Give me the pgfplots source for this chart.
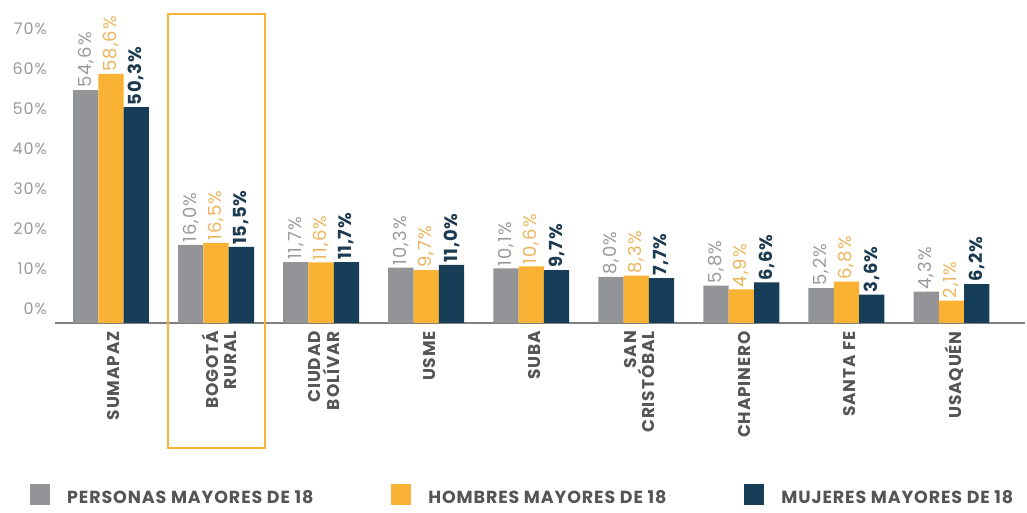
\documentclass[border=0pt]{standalone}
\usepackage{fontspec}
\setmainfont{Poppins}
\usepackage{pgfplots}
\usepackage{pgfplotstable}
\pgfplotsset{compat=1.18}
\definecolor{cgray}{HTML}{939497}
\definecolor{corange}{HTML}{F9B233}
\definecolor{cnavy}{HTML}{163E59}
\definecolor{tgray}{HTML}{9A9A9C}
\definecolor{torange}{HTML}{EBB55C}
\definecolor{tnavy}{HTML}{1D3B50}
\definecolor{lblgray}{HTML}{555555}
\definecolor{axgray}{HTML}{808080}
\newcommand\yfont{\fontsize{16}{17}\selectfont\addfontfeatures{LetterSpace=6}}
\newcommand\vfont{\fontsize{18}{19}\selectfont\addfontfeatures{LetterSpace=6}}
\newcommand\vbfont{\bfseries\fontsize{18}{19}\selectfont\addfontfeatures{LetterSpace=4}}
\newcommand\xfont{\bfseries\fontsize{17}{18.5}\selectfont\addfontfeatures{LetterSpace=5}}
\newcommand\lfont{\bfseries\fontsize{17.5}{18}\selectfont\addfontfeatures{LetterSpace=5}}
\pgfplotstableread{
x p h m
0 54.6 58.6 50.3
1 16.0 16.5 15.5
2 11.7 11.6 11.7
3 10.3 9.7 11.0
4 10.1 10.6 9.7
5 8.0 8.3 7.7
6 5.8 4.9 6.6
7 5.2 6.8 3.6
8 4.3 2.1 6.2
}\data
\begin{document}
\begin{tikzpicture}
\begin{axis}[
  at={(0pt,0pt)}, anchor=south west,
  scale only axis, width=970pt, height=312.8pt,
  xmin=-0.533, xmax=8.7, ymin=0, ymax=78,
  ybar=0pt, bar width=25.3pt,
  axis x line*=bottom, axis y line*=left,
  x axis line style={draw=axgray, line width=1.8pt, -},
  y axis line style={draw=none},
  tick style={draw=none}, major tick length=0pt,
  xtick={0,...,8},
  xticklabels={SUMAPAZ,{BOGOTÁ\\RURAL},{CIUDAD\\BOLÍVAR},USME,SUBA,{SAN\\CRISTÓBAL},CHAPINERO,SANTA FE,USAQUÉN},
  xticklabel style={yshift=-8pt, xshift=3pt, rotate=90, anchor=east, align=right, font=\xfont, text=lblgray, inner sep=0pt},
  ytick={3.5,13.5,...,73.5},
  yticklabels={0\%,10\%,20\%,30\%,40\%,50\%,60\%,70\%},
  yticklabel style={font=\yfont, text=tgray, inner sep=0pt, xshift=-8pt},
  /pgf/number format/assume math mode=true,
  point meta=explicit,
  nodes near coords={\pgfmathprintnumber[fixed,fixed zerofill,precision=1,use comma]{\pgfplotspointmeta}\%},
  every node near coord/.append style={rotate=90, anchor=west, inner sep=2pt, font=\vfont},
  clip=false,
  legend columns=3,
  legend style={at={(-0.0258,-0.514)}, anchor=north west, draw=none, fill=none,
    font=\lfont, text=lblgray, inner sep=0pt,
    nodes={inner sep=1pt},
    /tikz/every odd column/.append style={column sep=16pt},
    /tikz/every even column/.append style={column sep=77pt}},
  legend image code/.code={\fill[#1] (0pt,-7pt) rectangle (20pt,14pt);},
]
\addplot[fill=cgray, draw=none, every node near coord/.append style={text=tgray}]
  table[x=x, y expr=\thisrow{p}+3.5, meta=p] {\data};
\addplot[fill=corange, draw=none, every node near coord/.append style={text=torange}]
  table[x=x, y expr=\thisrow{h}+3.5, meta=h] {\data};
\addplot[fill=cnavy, draw=none, every node near coord/.append style={text=tnavy, font=\vbfont}]
  table[x=x, y expr=\thisrow{m}+3.5, meta=m] {\data};
\legend{PERSONAS MAYORES DE 18,HOMBRES MAYORES DE 18,MUJERES MAYORES DE 18}
\end{axis}
\draw[corange, line width=2.5pt] (113pt,-125pt) rectangle (210pt,309pt);
\pgfresetboundingbox
\useasboundingbox (-55pt,-190pt) rectangle (972pt,323pt);
\end{tikzpicture}
\end{document}
